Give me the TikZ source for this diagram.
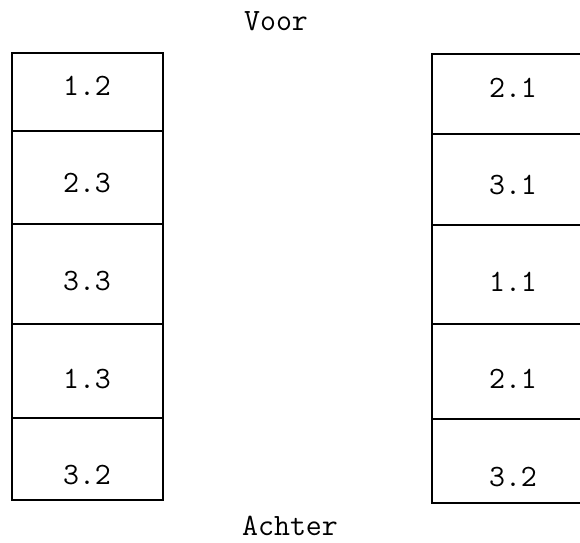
\documentclass[tikz,border=0pt]{standalone}
\usepackage{fontspec}
\begin{document}
\begin{tikzpicture}[x=1pt,y=-1pt,
  cell/.style={draw, line width=1.6pt, inner sep=0pt, anchor=north west},
  num/.style={font=\fontsize{31}{36}\selectfont\ttfamily, inner sep=0pt},
  side/.style={font=\fontsize{31}{36}\selectfont\ttfamily, inner sep=0pt}]
\useasboundingbox (0,0) rectangle (580,542);
\clip (0,0) rectangle (580,542);

% left row of cells
\node[cell, minimum width=151pt, minimum height=78pt] (l1) at (11,52) {};
\node[cell, minimum width=151pt, minimum height=93pt] (l2) at (11,130) {};
\node[cell, minimum width=151pt, minimum height=100pt] (l3) at (11,223) {};
\node[cell, minimum width=151pt, minimum height=94pt] (l4) at (11,323) {};
\node[cell, minimum width=151pt, minimum height=82pt] (l5) at (11,417) {};

% right row of cells (running on past the right edge)
\node[cell, minimum width=170pt, minimum height=80pt] (r1) at (431,53) {};
\node[cell, minimum width=170pt, minimum height=91pt] (r2) at (431,133) {};
\node[cell, minimum width=170pt, minimum height=99pt] (r3) at (431,224) {};
\node[cell, minimum width=170pt, minimum height=95pt] (r4) at (431,323) {};
\node[cell, minimum width=170pt, minimum height=84pt] (r5) at (431,418) {};

% cell numbers
\node[num] (t12) at (87,86) {1.2};
\node[num] (t23) at (87,183) {2.3};
\node[num] (t33) at (87,281) {3.3};
\node[num] (t13) at (87,379) {1.3};
\node[num] (t32) at (87,475) {3.2};

\node[num] (u21) at (513,88) {2.1};
\node[num] (u31) at (513,185) {3.1};
\node[num] (u11) at (513,282) {1.1};
\node[num] (u21b) at (513,379) {2.1};
\node[num] (u32) at (513,477) {3.2};

% front and back
\node[side] (voor) at (276,21) {Voor};
\node[side] (achter) at (290,526) {Achter};
\end{tikzpicture}
\end{document}
